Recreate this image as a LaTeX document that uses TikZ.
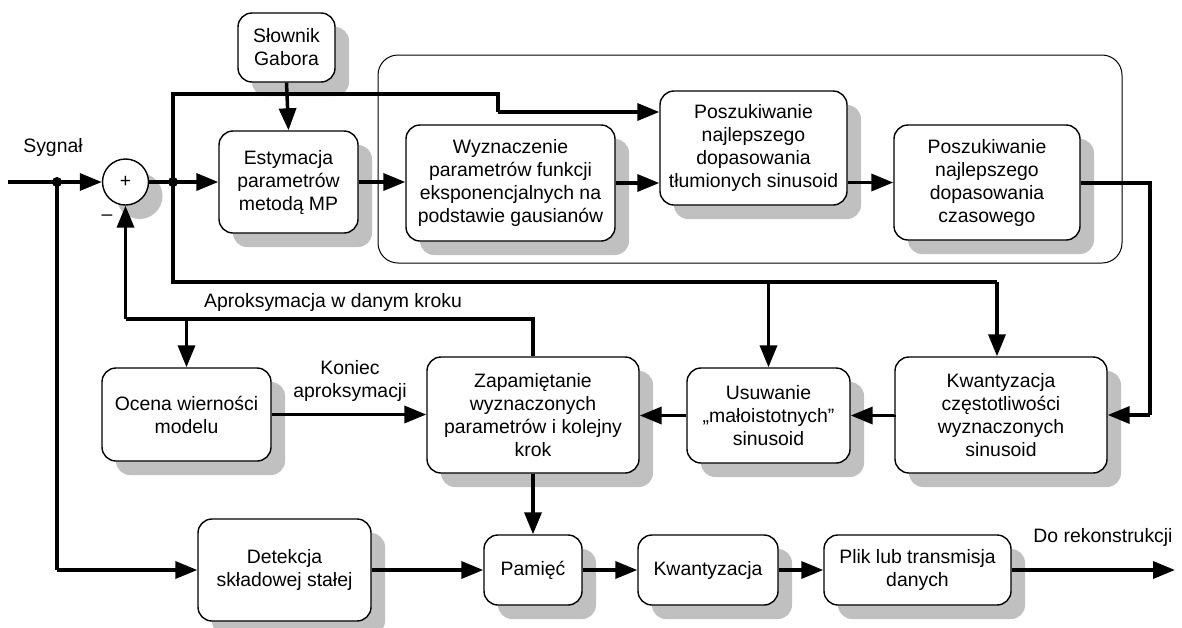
\documentclass[tikz,border=0pt]{standalone}
\usepackage{fontspec}
\setmainfont{Liberation Sans}
\usetikzlibrary{arrows.meta,shadows}
\definecolor{shade}{HTML}{C0C0C0}
\begin{document}
\begin{tikzpicture}[x=1pt,y=-1pt,
  txt/.style={font=\fontsize{19.4}{23}\selectfont},
  blk/.style={txt, draw, line width=1.4pt, rounded corners=14pt, fill=white,
    align=center, inner sep=0pt,
    drop shadow={shadow xshift=14pt, shadow yshift=-14pt, fill=shade, opacity=1}},
  conn/.style={line width=3.5pt, -{Triangle[length=22pt,width=17pt]}},
  wire/.style={line width=3.5pt},
  lbl/.style={txt, align=center, inner sep=0pt},
  dot/.style={circle, fill, inner sep=0pt, minimum size=10pt}
]
\useasboundingbox (0,0) rectangle (1182,627);

% frame around the fitting stages
\node[draw, line width=1pt, rounded corners=20pt, minimum width=744pt, minimum height=208pt] (grp) at (750,159) {};

% blocks
\node[blk, minimum width=97pt,  minimum height=69pt]  (slownik) at (286.5,47.5) {Słownik\\Gabora};
\node[blk, minimum width=139pt, minimum height=102pt] (estym)   at (288.5,182)  {Estymacja\\parametrów\\metodą MP};
\node[blk, minimum width=209pt, minimum height=116pt] (wyzn)    at (510.5,183)  {Wyznaczenie\\parametrów funkcji\\eksponencjalnych na\\podstawie gausianów};
\node[blk, minimum width=187pt, minimum height=114pt] (posz1)   at (753.5,148)  {Poszukiwanie\\najlepszego\\dopasowania\\tłumionych sinusoid};
\node[blk, minimum width=186pt, minimum height=115pt] (posz2)   at (987,182.5)  {Poszukiwanie\\najlepszego\\dopasowania\\czasowego};
\node[blk, minimum width=169pt, minimum height=93pt]  (ocena)   at (186.5,414.5) {Ocena wierności\\modelu};
\node[blk, minimum width=212pt, minimum height=116pt] (zapam)   at (533,415)    {Zapamiętanie\\wyznaczonych\\parametrów i kolejny\\krok};
\node[blk, minimum width=163pt, minimum height=95pt]  (usuw)    at (768.5,415.5) {Usuwanie\\„małoistotnych”\\sinusoid};
\node[blk, minimum width=212pt, minimum height=116pt] (kwantf)  at (1001,415)   {Kwantyzacja\\częstotliwości\\wyznaczonych\\sinusoid};
\node[blk, minimum width=173pt, minimum height=102pt] (detek)   at (284.5,570)  {Detekcja\\składowej stałej};
\node[blk, minimum width=98pt,  minimum height=70pt]  (pamiec)  at (533,570)    {Pamięć};
\node[blk, minimum width=140pt, minimum height=70pt]  (kwant)   at (708,570)    {Kwantyzacja};
\node[blk, minimum width=187pt, minimum height=70pt]  (plik)    at (917.5,570)  {Plik lub transmisja\\danych};

% summing junction
\node[txt, circle, draw, line width=1.4pt, fill=white, minimum size=46pt, inner sep=0pt,
  drop shadow={shadow xshift=14pt, shadow yshift=-14pt, fill=shade, opacity=1}] (sum) at (125.5,182) {+};

% labels
\node[lbl] (sygnal) at (53,147) {Sygnał};
\node[lbl] (minus)  at (107,218) {–};
\node[lbl] (aprox)  at (333,302) {Aproksymacja w danym kroku};
\node[lbl] (koniec) at (350,381) {Koniec\\aproksymacji};
\node[lbl] (dorek)  at (1103,537) {Do rekonstrukcji};

% routing points
\coordinate (in) at (8,182);
\coordinate (d1) at (57,182);
\coordinate (d2) at (173,182);
\coordinate (t1) at (498,94);
\coordinate (t2) at (498,112);
\coordinate (b1) at (173,282);
\coordinate (b2) at (768.5,282);
\coordinate (b3) at (997,282);
\coordinate (r1) at (1150,183);
\coordinate (r2) at (1150,415);
\coordinate (f1) at (533,319);
\coordinate (f2) at (125.5,319);
\coordinate (f3) at (186.5,319);
\coordinate (g1) at (57,570);
\coordinate (out) at (1175,570);

% forward path
\draw[conn] (in) -- (sum.west);
\draw[conn] (sum.east) -- (estym.west);
\draw[conn] (slownik.south) -- (estym.north);
\draw[wire] (d2) |- (t1) -- (t2);
\draw[conn] (t2) -- (t2 -| posz1.west);
\draw[conn] (estym.east) -- (estym.east -| wyzn.west);
\draw[conn] (wyzn.east) -- (wyzn.east -| posz1.west);
\draw[conn] (posz1.east |- posz2.west) -- (posz2.west);
\draw[wire] (posz2.east |- r1) -- (r1) -- (r2);
\draw[conn] (r2) -- (kwantf.east);

% residual signal to the lower stages
\draw[wire] (d2) -- (b1) -- (b3);
\draw[conn] (b2) -- (usuw.north);
\draw[conn] (b3) -- (b3 |- kwantf.north);
\draw[conn] (kwantf.west) -- (usuw.east -| kwantf.west) -- (usuw.east);
\draw[conn] (usuw.west) -- (usuw.west -| zapam.east);

% feedback of the current approximation
\draw[wire] (zapam.north) -- (f1) -- (f2);
\draw[conn] (f2) -- (sum.south);
\draw[conn] (f3) -- (ocena.north);
\draw[conn] (ocena.east) -- (ocena.east -| zapam.west);

% storage and output chain
\draw[conn] (zapam.south) -- (pamiec.north);
\draw[wire] (d1) -- (g1);
\draw[conn] (g1) -- (detek.west) ;
\draw[conn] (detek.east) -- (pamiec.west);
\draw[conn] (pamiec.east) -- (kwant.west);
\draw[conn] (kwant.east) -- (plik.west);
\draw[conn] (plik.east) -- (out);

% branch points
\node[dot] (dot1) at (d1) {};
\node[dot] (dot2) at (d2) {};
\end{tikzpicture}
\end{document}
